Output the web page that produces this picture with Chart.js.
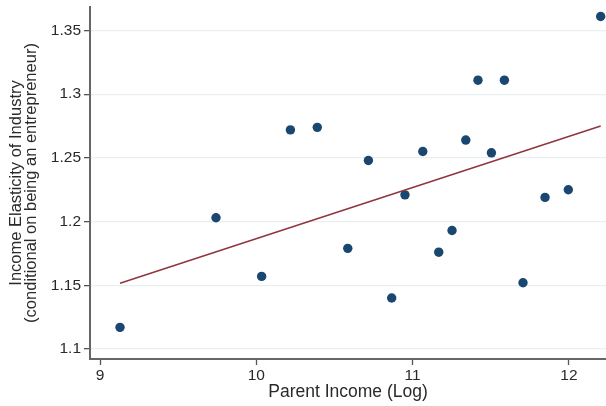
<!DOCTYPE html>
<html>
<head>
<meta charset="utf-8">
<script src="https://cdn.jsdelivr.net/npm/chart.js@4/dist/chart.umd.min.js"></script>
<style>
  html, body { margin: 0; padding: 0; background: #ffffff; }
  #wrap { width: 606px; height: 406px; }
</style>
</head>
<body>
<div id="wrap"><canvas id="c" width="606" height="406"></canvas></div>
<script>
// Parent income (log) and income elasticity of industry
const parentIncome = [9.128, 9.742, 10.034, 10.218, 10.390, 10.585, 10.717, 10.866, 10.951, 11.065,
                      11.167, 11.252, 11.340, 11.418, 11.504, 11.587, 11.706, 11.847, 11.996, 12.203];
const elasticity   = [1.117, 1.203, 1.157, 1.272, 1.274, 1.179, 1.248, 1.140, 1.221, 1.255,
                      1.176, 1.193, 1.264, 1.311, 1.254, 1.311, 1.152, 1.219, 1.225, 1.361];
// Linear fit line endpoints
const fitX = [9.128, 12.203];
const fitY = [1.1516, 1.2750];
// Tick values and labels
const xTicks = [9, 10, 11, 12];
const xTickLabels = ['9', '10', '11', '12'];
const yTicks = [1.1, 1.15, 1.2, 1.25, 1.3, 1.35];
const yTickLabels = ['1.1', '1.15', '1.2', '1.25', '1.3', '1.35'];
const xTitle = 'Parent Income (Log)';
const yTitle = ['Income Elasticity of Industry', '(conditional on being an entrepreneur)'];

const points = parentIncome.map((x, i) => ({ x: x, y: elasticity[i] }));
const fitPoints = fitX.map((x, i) => ({ x: x, y: fitY[i] }));

const FONT = '"Liberation Sans", Arial, sans-serif';
const TEXT = '#2a2a2a';

new Chart(document.getElementById('c'), {
  type: 'scatter',
  data: {
    datasets: [
      {
        type: 'scatter',
        data: points,
        backgroundColor: '#1a476f',
        borderWidth: 0,
        pointRadius: 4.7,
        pointHoverRadius: 4.7,
        order: 2
      },
      {
        type: 'line',
        data: fitPoints,
        borderColor: '#90353b',
        borderWidth: 1.5,
        pointRadius: 0,
        fill: false,
        tension: 0,
        order: 1
      }
    ]
  },
  options: {
    responsive: false,
    animation: false,
    events: [],
    layout: { autoPadding: false, padding: { top: 7, right: 0, left: 0, bottom: 0 } },
    plugins: { legend: { display: false }, tooltip: { enabled: false } },
    scales: {
      x: {
        type: 'linear',
        min: 8.936,
        max: 12.237,
        afterBuildTicks: s => { s.ticks = xTicks.map(v => ({ value: v })); },
        afterFit: s => { s.height = 47; s.paddingLeft = 0; s.paddingRight = 0; },
        ticks: {
          callback: (v) => { const i = xTicks.indexOf(v); return i >= 0 ? xTickLabels[i] : ''; },
          font: { family: FONT, size: 15.5 },
          color: TEXT,
          padding: 1,
          maxRotation: 0,
          autoSkip: false
        },
        grid: { drawOnChartArea: false, drawTicks: true, tickLength: 6, tickColor: '#555555', tickWidth: 1.3 },
        border: { display: true, color: '#666666', width: 2 },
        title: {
          display: true,
          text: xTitle,
          font: { family: FONT, size: 17.5 },
          color: TEXT,
          padding: { top: 0, bottom: 3 }
        }
      },
      y: {
        type: 'linear',
        min: 1.09215,
        max: 1.36845,
        afterBuildTicks: s => { s.ticks = yTicks.map(v => ({ value: v })); },
        afterFit: s => { s.width = 90; s.paddingTop = 0; s.paddingBottom = 0; },
        ticks: {
          callback: (v) => { const i = yTicks.findIndex(t => Math.abs(t - v) < 1e-9); return i >= 0 ? yTickLabels[i] : ''; },
          font: { family: FONT, size: 15.5 },
          color: TEXT,
          padding: 3,
          autoSkip: false
        },
        grid: { color: '#e9eef0', lineWidth: 1.3, drawTicks: true, tickLength: 6, tickColor: '#555555', tickWidth: 1.3 },
        border: { display: true, color: '#666666', width: 2 },
        title: {
          display: true,
          text: yTitle,
          font: { family: FONT, size: 16.5, lineHeight: 0.92 },
          color: TEXT,
          padding: { top: 8.5, bottom: 0 }
        }
      }
    }
  }
});
</script>
</body>
</html>
